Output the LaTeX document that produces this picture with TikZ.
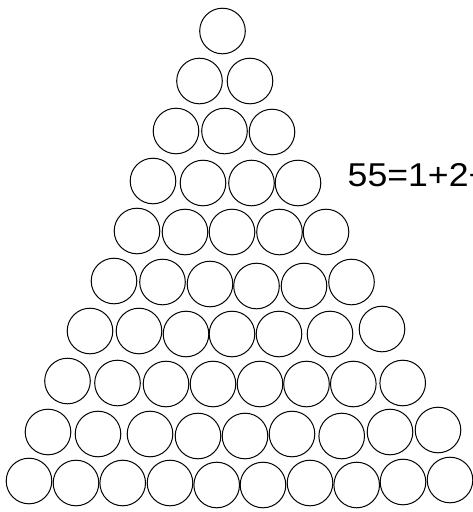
\documentclass[tikz,border=0pt]{standalone}
\usepackage{fontspec}
\setmainfont{Liberation Sans}
\begin{document}
\begin{tikzpicture}[x=1pt, y=-1pt,
  ball/.style={circle, draw, line width=1pt, minimum size=45.6pt, inner sep=0pt}]
\useasboundingbox (0,0) rectangle (473,512);
\clip (0,0) rectangle (473,512);
\foreach \x/\y [count=\k] in {222.5/31}
  \node[ball] (r1-\k) at (\x,\y) {};
\foreach \x/\y [count=\k] in {199.5/81, 250/81}
  \node[ball] (r2-\k) at (\x,\y) {};
\foreach \x/\y [count=\k] in {176/131, 224.5/131, 272/132}
  \node[ball] (r3-\k) at (\x,\y) {};
\foreach \x/\y [count=\k] in {153/181, 203/183, 251.5/183, 298/183}
  \node[ball] (r4-\k) at (\x,\y) {};
\foreach \x/\y [count=\k] in {137/231, 185/232, 232/232, 279.5/232, 326/232}
  \node[ball] (r5-\k) at (\x,\y) {};
\foreach \x/\y [count=\k] in {114/281, 162.5/282, 210/284, 256.5/286, 304/286, 351.5/282}
  \node[ball] (r6-\k) at (\x,\y) {};
\foreach \x/\y [count=\k] in {90/331, 139/331, 186/334, 232/334, 279/334, 330/334, 382/329}
  \node[ball] (r7-\k) at (\x,\y) {};
\foreach \x/\y [count=\k] in {67.5/381, 117.5/383, 166/384, 213/384, 260/384, 306.5/384, 353.3/384, 402.7/383}
  \node[ball] (r8-\k) at (\x,\y) {};
\foreach \x/\y [count=\k] in {48/432, 98/434, 150/434, 198/436, 245/436, 292/434, 341.7/436, 390/432, 438/430}
  \node[ball] (r9-\k) at (\x,\y) {};
\foreach \x/\y [count=\k] in {29/481, 76/483, 122.7/483, 170/483, 216.7/485, 263/485, 310/483, 356.7/485, 403/482, 450/480}
  \node[ball] (r10-\k) at (\x,\y) {};
\node[anchor=base west, inner sep=0pt, font=\fontsize{33}{33}\selectfont] (sum) at (347.5,186.5) {\scalebox{1.08}[1]{55=1+2+}};
\end{tikzpicture}
\end{document}
